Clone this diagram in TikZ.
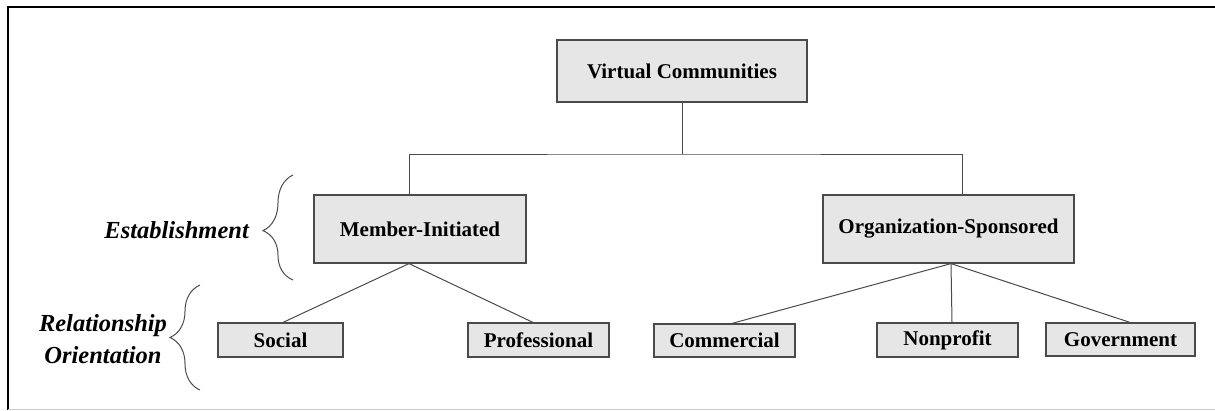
\documentclass[tikz,border=0pt]{standalone}
\usepackage{fontspec}
\setmainfont{Liberation Serif}[BoldFont={Liberation Serif Bold},ItalicFont={Liberation Serif Italic},BoldItalicFont={Liberation Serif Bold Italic}]
\usetikzlibrary{decorations.pathreplacing}
\definecolor{boxfill}{HTML}{E6E6E6}
\definecolor{edge}{HTML}{4A4A4A}
\begin{document}
\begin{tikzpicture}[x=1pt,y=-1pt,
	box/.style={rectangle,draw=edge,line width=1.2pt,fill=boxfill,inner sep=0pt,font=\fontsize{21}{25}\selectfont\bfseries},
	tag/.style={align=center,inner sep=0pt,font=\fontsize{24.5}{32}\selectfont\bfseries\itshape},
	link/.style={draw=edge,line width=1pt},
	curly/.style={draw=edge,line width=1pt,decorate,decoration={brace,amplitude=30pt,aspect=#1}}]
\useasboundingbox (0,0) rectangle (1215,410);
\draw[line width=2pt] (8,410) -- (8,7) -- (1215,7);
\draw[black!20] (8,409) -- (1215,409);
\node[box,minimum width=250pt,minimum height=62pt] (vc) at (682,71) {Virtual Communities};
\node[box,minimum width=212pt,minimum height=68pt] (mi) at (420,229) {Member-Initiated};
\node[box,minimum width=251pt,minimum height=68pt] (os) at (948.5,229) {Organization-Sponsored};
\node[box,minimum width=125pt,minimum height=34pt] (soc) at (280.5,340) {Social};
\node[box,minimum width=141pt,minimum height=34pt] (prof) at (538.5,340) {Professional};
\node[box,minimum width=141pt,minimum height=33pt] (comm) at (724.5,340.5) {Commercial};
\node[box,minimum width=141pt,minimum height=34pt] (nonp) at (947.5,340) {Nonprofit};
\node[box,minimum width=149pt,minimum height=33pt] (gov) at (1120.5,339.5) {Government};
\node[tag,anchor=east] (est) at (249,230) {Establishment};
\node[tag] (rel) at (103,339) {Relationship\\Orientation};
\coordinate (split) at (vc.south |- 0,154);
\coordinate (mi-foot) at ([xshift=-11pt]mi.south);
\coordinate (os-foot) at ([xshift=2.5pt]os.south);
\draw[link] (vc) -- (split);
\draw[link] ([xshift=-11pt]mi.north) |- (split) -| ([xshift=13.5pt]os.north);
\draw[link] (mi-foot) -- ([xshift=2.5pt]soc.north);
\draw[link] (mi-foot) -- ([xshift=-5.5pt]prof.north);
\draw[link] (os-foot) -- ([xshift=7.5pt]comm.north);
\draw[link] (os-foot) -- ([xshift=4.5pt]nonp.north);
\draw[link] (os-foot) -- ([xshift=9.5pt]gov.north);
\draw[curly=0.47] (293,280) -- (293,175);
\draw[curly=0.5] (200,390) -- (200,285);
\end{tikzpicture}
\end{document}
